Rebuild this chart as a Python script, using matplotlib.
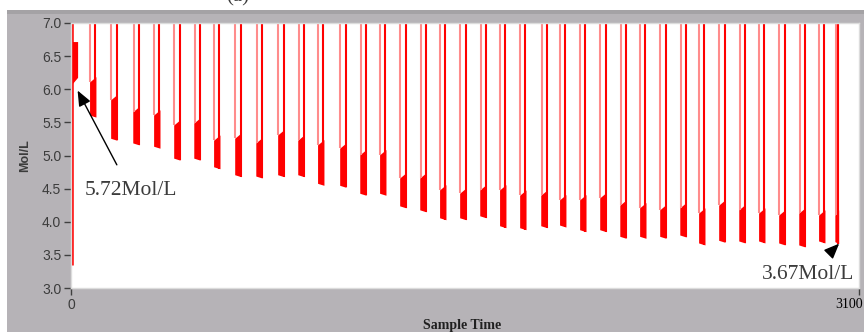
import matplotlib
matplotlib.use("Agg")
import matplotlib.pyplot as plt
from matplotlib.patches import Rectangle
from matplotlib.ticker import FormatStrFormatter
from matplotlib.transforms import ScaledTranslation

# ---------- data ----------
# each dip: sample where the concentration falls, sample where it recovers,
# and the band it sits in meanwhile (Mol/L)
dip_start = [76, 159, 246, 328, 407, 486, 564, 647, 730, 816, 895, 973, 1060, 1139, 1217,
             1296, 1375, 1453, 1532, 1611, 1689, 1768, 1851, 1925, 2004, 2083, 2162, 2240,
             2319, 2398, 2472, 2551, 2630, 2708, 2787, 2866, 2944, 3008]
dip_end = [96, 179, 266, 348, 427, 506, 584, 667, 750, 836, 915, 993, 1080, 1159, 1237,
           1316, 1395, 1473, 1552, 1631, 1709, 1788, 1871, 1945, 2024, 2103, 2182, 2260,
           2339, 2418, 2492, 2571, 2650, 2728, 2807, 2886, 2964, 3018]
dip_low = [5.58, 5.23, 5.16, 5.11, 4.93, 4.93, 4.80, 4.68, 4.66, 4.68, 4.68, 4.55, 4.52,
           4.40, 4.40, 4.21, 4.15, 4.03, 4.03, 4.06, 3.91, 3.88, 3.91, 3.92, 3.85, 3.85,
           3.75, 3.75, 3.75, 3.77, 3.65, 3.69, 3.68, 3.68, 3.65, 3.62, 3.68, 3.67]
dip_high = [6.11, 5.84, 5.66, 5.61, 5.46, 5.49, 5.23, 5.26, 5.19, 5.31, 5.23, 5.16, 5.11,
            5.01, 5.01, 4.66, 4.66, 4.48, 4.43, 4.48, 4.48, 4.40, 4.40, 4.33, 4.33, 4.36,
            4.25, 4.21, 4.18, 4.21, 4.13, 4.25, 4.18, 4.13, 4.10, 4.13, 4.10, 4.10]

# start-up: signal rises from the bottom, then settles in a band before the first dip
start_x = [4, 26]
start_low = 3.35
start_band = [6.08, 6.72]

first_label = "5.72Mol/L"
last_label = "3.67Mol/L"

RED = "#ff0000"
LIGHT_RED = "#ff8c8c"
TXT = "#3c3c3c"

fig = plt.figure(figsize=(8.64, 3.32), dpi=100)
fig.patch.set_facecolor("white")

# grey panel behind the graph
fig.add_artist(Rectangle((7 / 864, 0), 1, 322 / 332, transform=fig.transFigure,
                         facecolor="#b6b3b7", edgecolor="none", zorder=0))
fig.add_artist(Rectangle((7 / 864, 318 / 332), 1, 4 / 332, transform=fig.transFigure,
                         facecolor="#a4a2a5", edgecolor="none", zorder=0))

ax = fig.add_axes([71 / 864, 44 / 332, 788 / 864, 265 / 332])
ax.set_facecolor("white")
ax.set_xlim(0, 3100)
ax.set_ylim(3.0, 7.0)

# start-up part
ax.vlines(start_x[0], start_low, 7.0, color=RED, lw=1.8)
ax.fill_between(start_x, [start_band[0], start_band[0] + 0.1], start_band[1],
                color=RED, lw=0)

# periodic dips
for s, e, lo, hi in zip(dip_start, dip_end, dip_low, dip_high):
    ax.vlines(s, hi, 7.0, color=LIGHT_RED, lw=1.5)
    ax.fill_between([s - 3, e + 2], [lo + 0.03, lo], [hi, hi + 0.08], color=RED, lw=0)
    ax.vlines(e, lo, 7.0, color=RED, lw=1.5)

ax.set_yticks([3.0, 3.5, 4.0, 4.5, 5.0, 5.5, 6.0, 6.5, 7.0])
ax.yaxis.set_major_formatter(FormatStrFormatter("%.1f"))
ax.set_xticks([0, 3100])
ax.set_xticklabels(["0", "3100"])
ax.tick_params(direction="out", length=5, width=1, color="#404040",
               labelcolor=TXT, labelsize=10, pad=2)
for lab in ax.get_yticklabels() + ax.get_xticklabels():
    lab.set_fontfamily("Liberation Sans")
lab3100 = ax.get_xticklabels()[1]
lab3100.set_fontfamily("Liberation Serif")
lab3100.set_color("black")
lab3100.set_transform(lab3100.get_transform() + ScaledTranslation(-0.1, 0, fig.dpi_scale_trans))

for sp in ax.spines.values():
    sp.set_color("#dcdcdc")
    sp.set_linewidth(1)

ax.set_ylabel("Mol/L", fontsize=9, fontfamily="Liberation Sans", fontweight="bold",
              color=TXT, labelpad=8)
fig.text(462 / 864, 1 - 325 / 332, "Sample Time", ha="center", va="center",
         fontsize=10, fontfamily="Liberation Serif", fontweight="bold", color="#202020")

# annotations
arrow = dict(arrowstyle="-|>,head_length=0.6,head_width=0.25", color="black",
             lw=1.0, shrinkB=0)
ax.annotate(first_label, xy=(26, 5.98), xytext=(52, 4.47), textcoords="data",
            fontsize=15.5, fontfamily="Liberation Serif", color=TXT, ha="left", va="center",
            arrowprops=dict(arrow, shrinkA=11))
ax.annotate(last_label, xy=(3022, 3.67), xytext=(2900, 3.2), textcoords="data",
            fontsize=15.5, fontfamily="Liberation Serif", color=TXT, ha="center", va="center",
            arrowprops=dict(arrow, shrinkA=10))

# panel caption, cut by the top edge as in the source
fig.text(238 / 864, 1 - 1 / 332, "(a)", ha="center", va="baseline",
         fontsize=15, fontfamily="Liberation Serif", color=TXT)

fig.savefig("out.png", dpi=100)
